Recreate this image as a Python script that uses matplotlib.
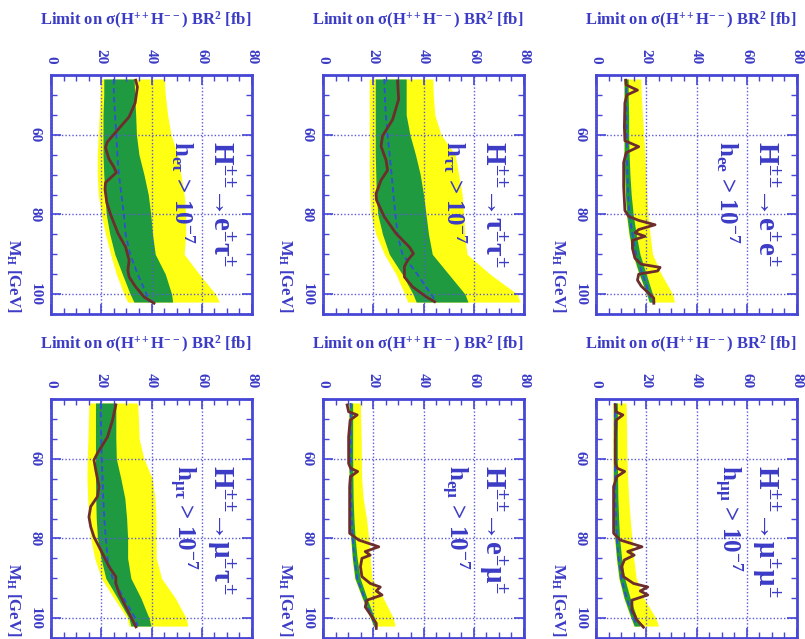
import matplotlib
matplotlib.use("Agg")
import matplotlib.pyplot as plt
from matplotlib.ticker import MultipleLocator, FixedLocator

plt.rcParams['font.family'] = ['Liberation Serif', 'DejaVu Serif']
plt.rcParams['font.weight'] = 'bold'
plt.rcParams['mathtext.fontset'] = 'custom'
plt.rcParams['mathtext.rm'] = 'Liberation Serif:bold'
plt.rcParams['mathtext.it'] = 'Liberation Serif:bold'
plt.rcParams['mathtext.bf'] = 'Liberation Serif:bold'
plt.rcParams['mathtext.default'] = 'regular'

# ---------------- data ----------------
mass_grid = [46, 50, 55, 60, 65, 70, 75, 80, 85, 90, 95, 100, 102]

# e tau
et_yellow_lo = [19.7, 19.5, 19.2, 18.8, 18.4, 18.4, 18.8, 20.0, 21.7, 23.7, 26.0, 29.0, 30.5]
et_yellow_hi = [45.1, 45.5, 46.4, 47.8, 50.4, 51.7, 53.0, 53.6, 53.6, 53.0, 59.0, 65.5, 67.0]
et_green_lo = [21.0, 21.0, 20.7, 20.7, 20.7, 21.0, 21.4, 22.0, 23.4, 25.4, 28.4, 31.5, 33.0]
et_green_hi = [33.1, 33.3, 33.7, 34.0, 35.0, 37.0, 38.7, 39.7, 40.4, 41.5, 45.5, 48.0, 48.4]
et_median = [25.0, 25.0, 25.5, 26.0, 26.4, 27.0, 28.0, 29.0, 29.7, 31.5, 34.5, 38.0, 39.0]
et_obs_mass = [46.3, 48, 52, 55.5, 58.9, 61.8, 63.2, 66, 68.2, 69.5, 72, 73.7, 77, 80,
               84.8, 88.2, 91.5, 94, 95.7, 98.2, 100.7, 102.3]
et_obs = [33.7, 34.4, 33.5, 31.1, 26.4, 22.4, 21.7, 23.0, 25.1, 26.0, 21.7, 21.5, 22.2, 23.7,
          26.7, 29.7, 31.1, 30.6, 31.1, 33.7, 37.0, 41.0]

# tau tau
tt_yellow_lo = [18.4, 18.4, 18.4, 18.4, 18.4, 18.4, 18.6, 19.0, 21.0, 24.4, 29.0, 32.5, 33.7]
tt_yellow_hi = [43.7, 43.9, 44.5, 47.0, 52.6, 54.0, 55.4, 56.0, 56.4, 57.3, 66.5, 77.3, 78.4]
tt_green_lo = [20.8, 20.8, 20.8, 20.8, 20.8, 21.0, 21.2, 21.8, 23.7, 26.4, 31.5, 35.8, 37.1]
tt_green_hi = [33.1, 33.1, 33.1, 34.6, 36.8, 38.7, 40.0, 41.0, 42.0, 43.5, 50.0, 56.5, 57.7]
tt_median = [24.4, 24.6, 25.0, 25.7, 26.5, 27.3, 28.0, 28.8, 29.7, 31.6, 37.5, 43.0, 45.1]
tt_obs_mass = [46.5, 51.1, 56.2, 60.3, 62.9, 66.4, 68.9, 71.4, 74.8, 76.4, 80.6, 84.8, 88.2,
               89.8, 91.5, 93.1, 95.7, 98.2, 100.7, 101.9]
tt_obs = [29.7, 30.1, 27.7, 23.7, 23.1, 25.1, 25.7, 23.1, 21.1, 21.3, 24.4, 29.1, 34.4,
          36.0, 33.7, 32.4, 32.4, 35.7, 41.1, 44.4]

# e e
ee_yellow_lo = [11.0, 11.0, 11.0, 11.0, 11.0, 11.2, 11.5, 12.0, 13.0, 14.5, 17.0, 20.0, 21.0]
ee_yellow_hi = [17.8, 18.0, 18.5, 19.0, 19.5, 19.8, 20.2, 20.7, 21.5, 22.5, 26.0, 30.5, 31.2]
ee_green_lo = [11.2, 11.2, 11.2, 11.2, 11.2, 11.4, 11.7, 12.2, 13.2, 14.7, 17.2, 20.2, 21.2]
ee_green_hi = [12.8, 12.8, 13.0, 13.0, 13.2, 13.5, 14.0, 14.8, 16.0, 17.5, 20.0, 22.5, 23.5]
ee_median = [12.0, 12.0, 12.1, 12.2, 12.3, 12.5, 12.8, 13.3, 14.5, 16.0, 18.5, 21.3, 22.3]
ee_obs_mass = [46.3, 47.5, 48.8, 50.0, 52, 58, 61.5, 63.0, 64.5, 67, 73, 79, 80.5, 81.5, 82.6,
               83.8, 84.6, 85.5, 86.5, 88.5, 91, 92.5, 93.3, 94.2, 95, 96.5, 98, 99.5, 101, 102.3]
ee_obs = [11.8, 12.0, 16.5, 12.3, 11.5, 11.3, 11.5, 17.0, 12.0, 11.0, 11.0, 11.5, 13.0, 17.0, 23.5,
          17.0, 15.5, 19.5, 14.5, 14.5, 15.5, 18.0, 25.5, 24.5, 17.0, 16.5, 18.0, 20.5, 23.0, 23.0]

# mu tau
mt_yellow_lo = [15.1, 14.9, 14.7, 14.4, 14.3, 14.6, 15.0, 15.8, 17.4, 20.0, 25.0, 30.3, 31.0]
mt_yellow_hi = [34.5, 34.8, 35.1, 37.0, 40.3, 41.4, 41.8, 41.8, 41.9, 44.0, 49.5, 53.8, 54.5]
mt_green_lo = [17.7, 17.7, 17.7, 17.7, 17.7, 17.8, 18.0, 18.5, 19.9, 21.8, 26.5, 31.0, 31.8]
mt_green_hi = [25.8, 25.8, 25.8, 26.0, 27.8, 29.4, 30.1, 30.5, 30.5, 31.8, 35.8, 39.0, 39.8]
mt_median = [19.8, 19.8, 20.0, 20.2, 20.5, 20.8, 21.2, 21.8, 22.5, 24.5, 29.0, 33.5, 34.5]
mt_obs_mass = [46.5, 50.3, 54.5, 58.6, 60.3, 62.8, 67.0, 69.5, 72.0, 74.6, 77.1, 79.6, 83.8,
               87.1, 89.6, 91.3, 93.8, 96.3, 98.8, 102.2]
mt_obs = [25.8, 24.5, 22.5, 18.5, 17.1, 17.8, 19.1, 18.5, 15.8, 15.1, 15.8, 17.1, 20.5,
          23.1, 25.8, 25.8, 27.1, 29.1, 31.1, 33.8]

# e mu
em_yellow_lo = [10.2, 10.2, 10.2, 10.2, 10.2, 10.3, 10.5, 10.9, 11.5, 12.5, 15.5, 18.7, 20.0]
em_yellow_hi = [14.9, 15.0, 15.2, 15.3, 15.4, 16.0, 17.3, 18.2, 18.8, 19.5, 24.0, 28.0, 28.7]
em_green_lo = [10.4, 10.4, 10.4, 10.4, 10.4, 10.5, 10.7, 11.1, 11.7, 12.7, 15.7, 18.9, 20.2]
em_green_hi = [11.8, 11.8, 11.8, 11.8, 11.9, 12.0, 12.3, 12.8, 13.6, 14.8, 17.5, 20.5, 21.5]
em_median = [11.0, 11.0, 11.0, 11.0, 11.0, 11.2, 11.4, 11.8, 12.5, 13.6, 16.5, 19.6, 20.8]
em_obs_mass = [46.5, 48.2, 49.0, 50.3, 54.5, 61.2, 62.4, 63.2, 64.5, 67.0, 78.7, 80.4, 82.1,
               83.3, 84.2, 85.0, 87.1, 89.6, 91.3, 92.2, 93.2, 94.2, 95.5, 97.2, 99.7, 101.3, 102.6]
em_obs = [9.6, 10.2, 13.6, 10.8, 10.2, 10.2, 11.0, 13.8, 10.9, 10.6, 10.6, 14.2, 22.2,
          16.8, 18.8, 15.5, 14.9, 15.5, 18.8, 22.8, 21.2, 23.5, 17.5, 16.8, 19.5, 21.2, 21.2]

# mu mu
mm_yellow_lo = [6.7, 6.7, 6.7, 6.7, 6.7, 6.8, 7.0, 7.3, 8.0, 9.0, 11.0, 13.8, 15.0]
mm_yellow_hi = [12.0, 12.1, 12.2, 12.3, 12.6, 13.0, 13.6, 14.3, 15.0, 16.0, 19.0, 23.8, 24.9]
mm_green_lo = [6.9, 6.9, 6.9, 6.9, 6.9, 7.0, 7.2, 7.5, 8.2, 9.2, 11.2, 14.0, 15.2]
mm_green_hi = [8.5, 8.5, 8.5, 8.5, 8.6, 8.7, 9.0, 9.4, 10.2, 11.4, 13.6, 16.3, 17.5]
mm_median = [7.5, 7.5, 7.5, 7.5, 7.6, 7.7, 8.0, 8.3, 9.0, 10.1, 12.2, 15.0, 16.2]
mm_obs_mass = [46.5, 48.2, 49.0, 50.3, 55, 61.2, 62.4, 63.2, 64.5, 67, 78.7, 80.4, 82.1, 83.3,
               84.2, 85.4, 87.1, 89.6, 91.3, 92.2, 93.2, 94.2, 95.5, 97.9, 100.5, 102.3]
mm_obs = [7.7, 7.9, 10.7, 8.0, 7.7, 7.7, 8.5, 11.4, 8.3, 7.0, 7.0, 9.6, 18.3, 12.6,
          15.2, 11.3, 10.2, 10.9, 14.9, 20.6, 17.6, 20.6, 14.3, 14.3, 16.3, 18.9]

channel_titles = [r"H$^{±±}$→e$^{±}$τ$^{±}$", r"H$^{±±}$→τ$^{±}$τ$^{±}$", r"H$^{±±}$→e$^{±}$e$^{±}$",
                  r"H$^{±±}$→μ$^{±}$τ$^{±}$", r"H$^{±±}$→e$^{±}$μ$^{±}$", r"H$^{±±}$→μ$^{±}$μ$^{±}$"]
coupling_labels = [r"h$_{eτ}$ > 10$^{-7}$", r"h$_{ττ}$ > 10$^{-7}$", r"h$_{ee}$ > 10$^{-7}$",
                   r"h$_{μτ}$ > 10$^{-7}$", r"h$_{eμ}$ > 10$^{-7}$", r"h$_{μμ}$ > 10$^{-7}$"]
limit_label = r"Limit on σ(H$^{++}$H$^{--}$) BR$^{2}$ [fb]"
mass_label = r"M$_{H}$ [GeV]"
limit_ticks = [0, 20, 40, 60, 80]
mass_ticks = [60, 80, 100]

# ---------------- style ----------------
TEXT = '#3b3bc6'
FRAME = '#4646d6'
GRID = '#5a5ad8'
YELLOW = '#ffff14'
GREEN = '#1f9a40'
MEDIAN = '#2f4fd6'
BROWN = '#6e2d2d'

W, H = 805, 639
fig = plt.figure(figsize=(W / 100, H / 100), dpi=100)
fig.patch.set_facecolor('white')

lefts = [51, 323, 596]
tops = [75, 399]
pw, ph = 201, 239

panels = [
    (et_yellow_lo, et_yellow_hi, et_green_lo, et_green_hi, et_median, et_obs_mass, et_obs),
    (tt_yellow_lo, tt_yellow_hi, tt_green_lo, tt_green_hi, tt_median, tt_obs_mass, tt_obs),
    (ee_yellow_lo, ee_yellow_hi, ee_green_lo, ee_green_hi, ee_median, ee_obs_mass, ee_obs),
    (mt_yellow_lo, mt_yellow_hi, mt_green_lo, mt_green_hi, mt_median, mt_obs_mass, mt_obs),
    (em_yellow_lo, em_yellow_hi, em_green_lo, em_green_hi, em_median, em_obs_mass, em_obs),
    (mm_yellow_lo, mm_yellow_hi, mm_green_lo, mm_green_hi, mm_median, mm_obs_mass, mm_obs),
]

for i, (ylo, yhi, glo, ghi, med, om, ob) in enumerate(panels):
    r, c = divmod(i, 3)
    l, t = lefts[c], tops[r]
    ax = fig.add_axes([l / W, 1 - (t + ph) / H, pw / W, ph / H])
    ax.fill_betweenx(mass_grid, ylo, yhi, color=YELLOW, lw=0, zorder=1)
    ax.fill_betweenx(mass_grid, glo, ghi, color=GREEN, lw=0, zorder=1.2)
    ax.plot(med, mass_grid, color=MEDIAN, ls=(0, (3, 2)), lw=1.3, zorder=2.6)
    ax.plot(ob, om, color=BROWN, lw=2.0, zorder=3, solid_joinstyle='round')

    ax.set_xlim(0, 80)
    ax.set_ylim(105, 45)
    ax.xaxis.set_major_locator(FixedLocator(limit_ticks))
    ax.xaxis.set_minor_locator(MultipleLocator(5))
    ax.yaxis.set_major_locator(FixedLocator(mass_ticks))
    ax.yaxis.set_minor_locator(MultipleLocator(5))
    ax.set_axisbelow(False)
    ax.grid(True, which='major', color=GRID, ls=(0, (1, 1.5)), lw=1.0)

    ax.tick_params(which='both', direction='in', top=True, bottom=True, left=True, right=True,
                   labeltop=True, labelbottom=False, labelleft=True, labelright=False,
                   color=FRAME, labelcolor=TEXT, labelsize=11)
    ax.tick_params(which='major', length=7, width=1.2)
    ax.tick_params(which='minor', length=4, width=1.0)
    ax.tick_params(axis='x', labelrotation=-90, pad=8)
    ax.tick_params(axis='y', labelrotation=-90, pad=7)
    for lab in ax.get_yticklabels():
        lab.set_verticalalignment('center')
    for sp in ax.spines.values():
        sp.set_color(FRAME)
        sp.set_linewidth(2)

    ax.text(0.47, 1 + 55 / ph, limit_label, transform=ax.transAxes, ha='center', va='center',
            fontsize=12, color=TEXT, fontweight='bold')
    ax.text(-0.19, 0.005, mass_label, transform=ax.transAxes, rotation=-90, ha='center',
            va='bottom', fontsize=12, color=TEXT, fontweight='bold')
    ax.text(67.5, 61.5, channel_titles[i], rotation=-90, ha='center', va='top',
            fontsize=21, color=TEXT, fontweight='bold', zorder=5)
    ax.text(52.5, 61.5, coupling_labels[i], rotation=-90, ha='center', va='top',
            fontsize=18, color=TEXT, fontweight='bold', zorder=5)

fig.savefig('out.png', dpi=100, facecolor='white')
